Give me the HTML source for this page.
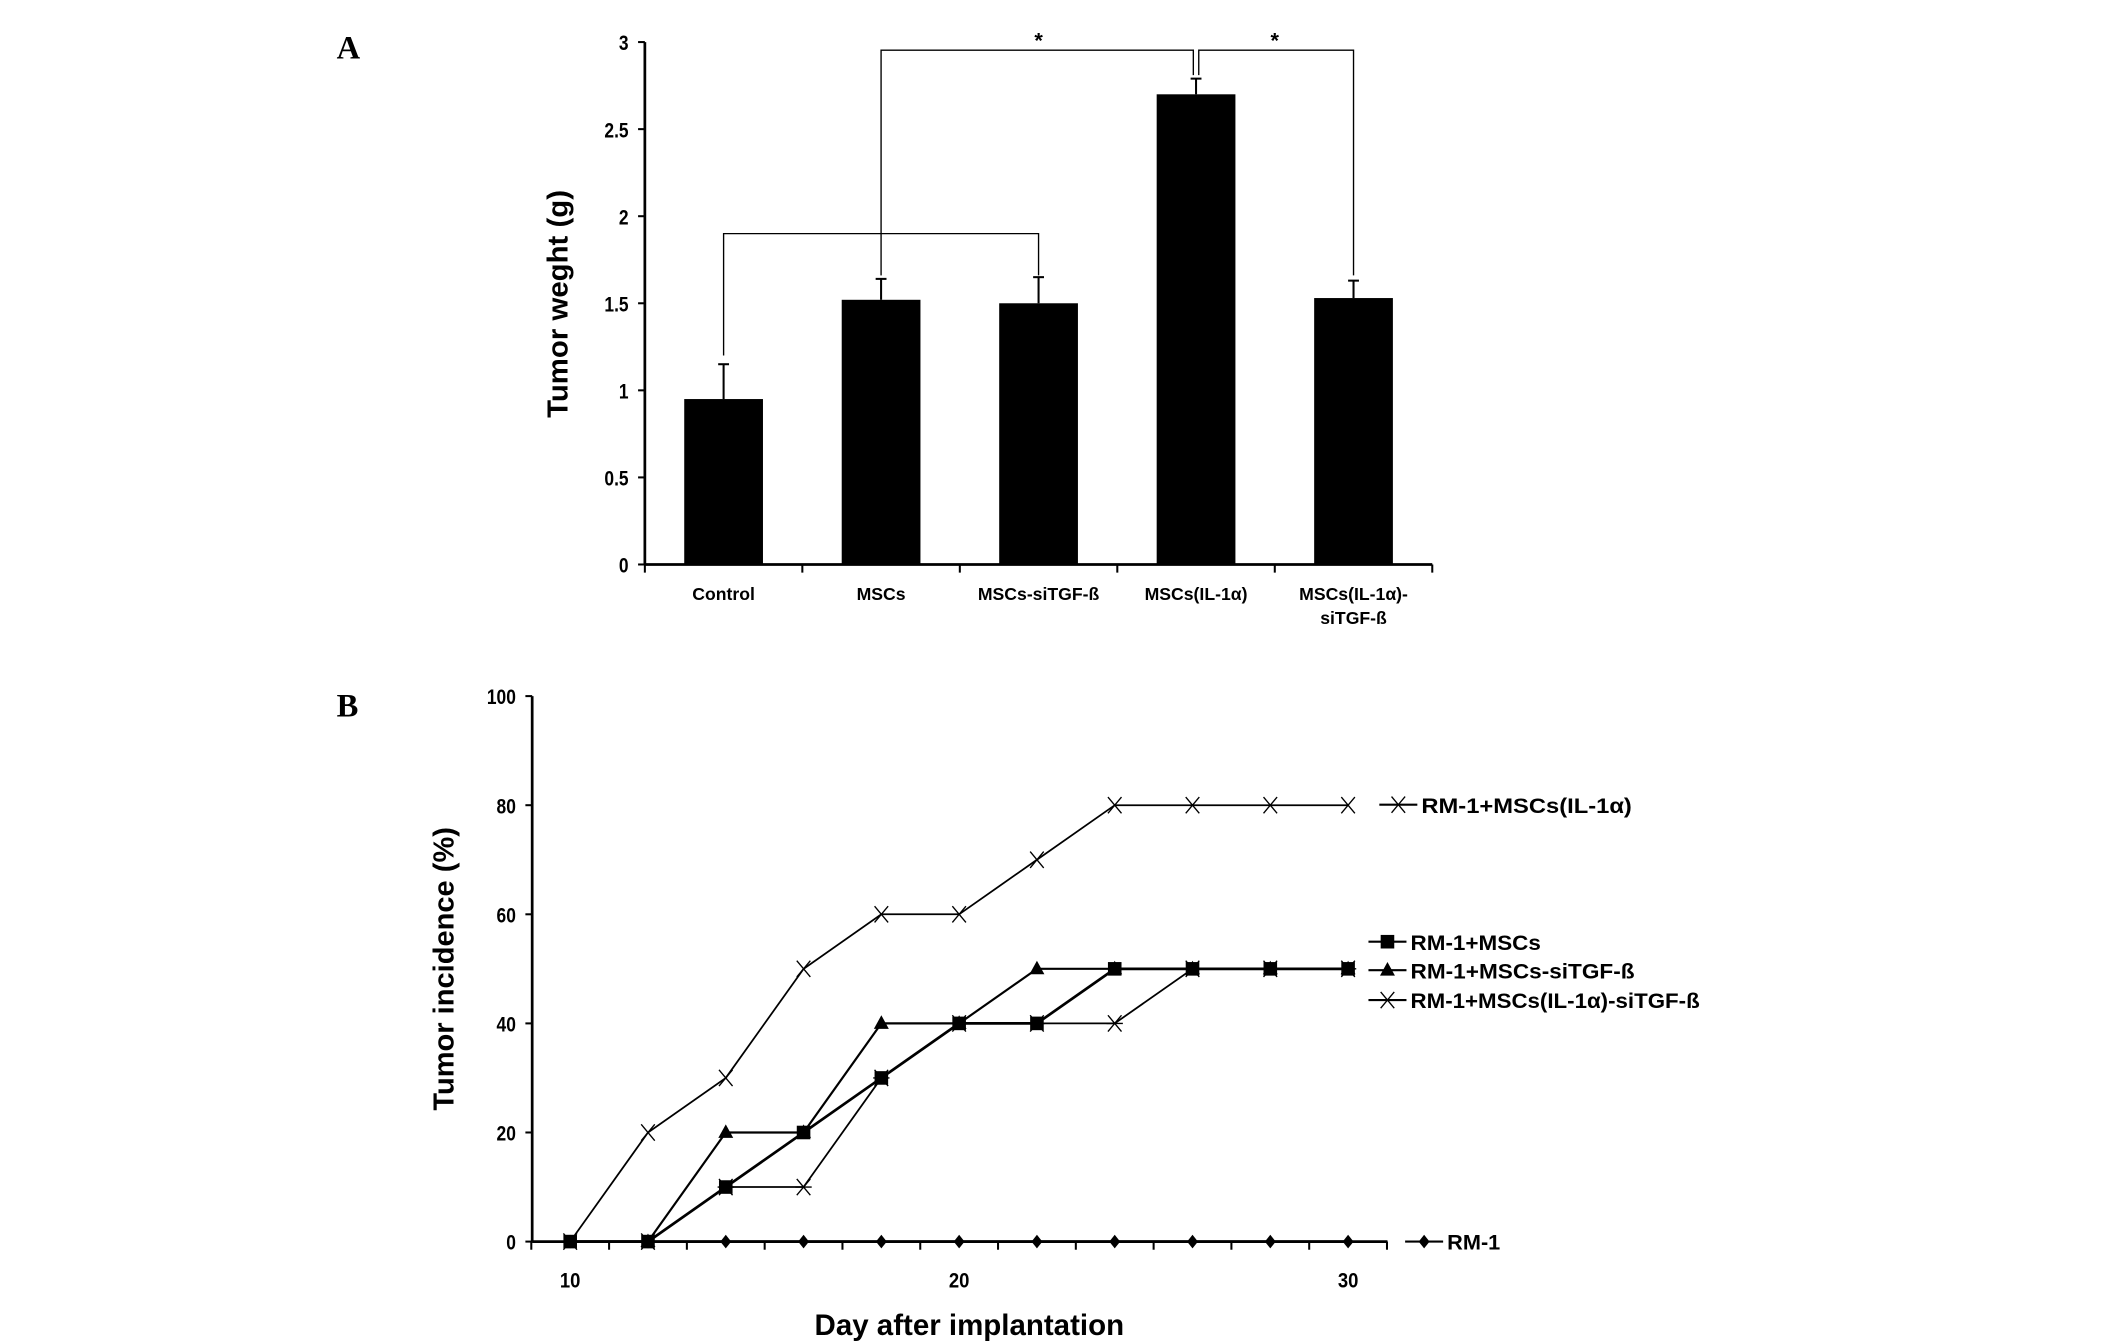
<!DOCTYPE html>
<html><head><meta charset="utf-8"><style>
html,body{margin:0;padding:0;background:#fff}
svg{display:block}
text{font-family:"Liberation Sans",Arial,sans-serif;font-weight:bold;fill:#000}
</style></head><body>
<svg id="fig" width="2126" height="1342" viewBox="0 0 1566 989" preserveAspectRatio="none" xmlns="http://www.w3.org/2000/svg">
<text x="248" y="43" font-size="24" style="font-family:'Liberation Serif',serif">A</text>
<text x="248" y="528" font-size="24" style="font-family:'Liberation Serif',serif">B</text>
<g id="chartA"></g>
<g id="chartB"></g>
</svg>
<script>
const catsA = ["Control","MSCs","MSCs-siTGF-ß","MSCs(IL-1α)","MSCs(IL-1α)-\nsiTGF-ß"];
const weights = [0.95,1.52,1.50,2.70,1.53];
const errTops = [1.15,1.64,1.65,2.79,1.63];
const ticksA = [0,0.5,1,1.5,2,2.5,3];
const tickLabelsA = ["0","0.5","1","1.5","2","2.5","3"];

const days = [10,12,14,16,18,20,22,24,26,28,30];
const seriesIL = [0,20,30,50,60,60,70,80,80,80,80];
const seriesMSC = [0,0,10,20,30,40,40,50,50,50,50];
const seriesSi = [null,0,20,20,40,40,50,50,50,50,50];
const seriesILSi = [null,0,10,10,30,40,40,40,50,50,50];
const seriesRM = [0,0,0,0,0,0,0,0,0,0,0];
const ticksBy = [0,20,40,60,80,100];
const ticksBx = [10,20,30];

const NS="http://www.w3.org/2000/svg";
function mk(parent,tag,attrs,text){const e=document.createElementNS(NS,tag);for(const k in attrs)e.setAttribute(k,attrs[k]);if(text!==undefined)e.textContent=text;parent.appendChild(e);return e;}

// Chart A
const A=document.getElementById('chartA');
const ax0=475, ax1=1055, ay0=416, ay3=31;
const yA=v=>ay0-(v/3)*(ay0-ay3);
const band=(ax1-ax0)/catsA.length;
const xA=i=>ax0+band*(i+0.5);
let e;
e=mk(A,'line',{x1:ax0,y1:ay3,x2:ax0,y2:ay0,stroke:'#000','stroke-width':2});

e=mk(A,'line',{x1:ax0,y1:ay0,x2:ax1,y2:ay0,stroke:'#000','stroke-width':2});

ticksA.forEach((t,i)=>{
  mk(A,'line',{x1:ax0-5,y1:yA(t),x2:ax0,y2:yA(t),stroke:'#000','stroke-width':1.5});
  e=mk(A,'text',{x:ax0-12,y:yA(t)+6,'font-size':16,'text-anchor':'end',transform:`translate(${ax0-12},0) scale(0.8,1) translate(${-(ax0-12)},0)`},tickLabelsA[i]);
  
});
for(let i=0;i<=catsA.length;i++) mk(A,'line',{x1:ax0+band*i,y1:ay0,x2:ax0+band*i,y2:ay0+6,stroke:'#000','stroke-width':1.5});
catsA.forEach((c,i)=>{
  const bx=xA(i);
  e=mk(A,'rect',{x:bx-29,y:yA(weights[i]),width:58,height:ay0-yA(weights[i]),fill:'#000'});
  
  e=mk(A,'line',{x1:bx,y1:yA(errTops[i]),x2:bx,y2:yA(weights[i]),stroke:'#000','stroke-width':1.5});
  
  mk(A,'line',{x1:bx-4,y1:yA(errTops[i]),x2:bx+4,y2:yA(errTops[i]),stroke:'#000','stroke-width':1.5});
  c.split('\n').forEach((ln,j)=>{
    e=mk(A,'text',{x:bx,y:442+j*18,'font-size':13,'text-anchor':'middle'},ln);
    
  });
});
const br=mk(A,'g',{stroke:'#000','stroke-width':1,fill:'none'});

const yLow=yA(1.9), yTop=37;
mk(br,'polyline',{points:`${xA(0)},${yA(1.2)} ${xA(0)},${yLow} ${xA(2)},${yLow} ${xA(2)},${yA(1.66)}`});
mk(br,'line',{x1:xA(1),y1:yLow,x2:xA(1),y2:yA(1.66)});
mk(br,'polyline',{points:`${xA(1)},${yLow} ${xA(1)},${yTop} ${xA(3)-2},${yTop} ${xA(3)-2},${yA(2.81)}`});
mk(br,'polyline',{points:`${xA(3)+2},${yA(2.81)} ${xA(3)+2},${yTop} ${xA(4)},${yTop} ${xA(4)},${yA(1.66)}`});
e=mk(A,'text',{x:(xA(1)+xA(3))/2,y:35,'font-size':16,'font-weight':'normal','text-anchor':'middle'},'*');

e=mk(A,'text',{x:(xA(3)+xA(4))/2,y:35,'font-size':16,'font-weight':'normal','text-anchor':'middle'},'*');

e=mk(A,'text',{x:0,y:0,'font-size':21,'text-anchor':'middle',textLength:168,lengthAdjust:'spacingAndGlyphs',transform:`translate(418,224) rotate(-90)`},'Tumor weght (g)');


// Chart B
const B=document.getElementById('chartB');
const bx0=392,bx1=1022,by0=915,by100=513;
const xB=d=>420+(d-10)*(993-420)/20;
const yB=v=>by0-v/100*(by0-by100);
e=mk(B,'line',{x1:bx0,y1:by100,x2:bx0,y2:by0,stroke:'#000','stroke-width':2});

e=mk(B,'line',{x1:bx0,y1:by0,x2:bx1,y2:by0,stroke:'#000','stroke-width':2});

ticksBy.forEach(t=>{
  mk(B,'line',{x1:bx0-5,y1:yB(t),x2:bx0,y2:yB(t),stroke:'#000','stroke-width':1.5});
  e=mk(B,'text',{x:bx0-12,y:yB(t)+6,'font-size':16,'text-anchor':'end',transform:`translate(${bx0-12},0) scale(0.8,1) translate(${-(bx0-12)},0)`},String(t));
  
});
for(let d=9;d<=31;d+=2) mk(B,'line',{x1:xB(d),y1:by0,x2:xB(d),y2:by0+6,stroke:'#000','stroke-width':1.5});
ticksBx.forEach(t=>{
  e=mk(B,'text',{x:xB(t),y:949,'font-size':16,'text-anchor':'middle',transform:`translate(${xB(t)},0) scale(0.85,1) translate(${-xB(t)},0)`},String(t));
  
});
e=mk(B,'text',{x:0,y:0,'font-size':21,'text-anchor':'middle',textLength:209,lengthAdjust:'spacingAndGlyphs',transform:`translate(334,714) rotate(-90)`},'Tumor incidence (%)');

e=mk(B,'text',{x:714,y:984,'font-size':22,'text-anchor':'middle',textLength:228,lengthAdjust:'spacingAndGlyphs'},'Day after implantation');


function marker(g,type,x,y){
  if(type==='x'){mk(g,'path',{d:`M${x-5},${y-6}L${x+5},${y+6}M${x-5},${y+6}L${x+5},${y-6}`,stroke:'#000','stroke-width':1,fill:'none'});}
  else if(type==='ast'){mk(g,'path',{d:`M${x-5},${y-6}L${x+5},${y+6}M${x-5},${y+6}L${x+5},${y-6}M${x-6},${y}L${x+6},${y}`,stroke:'#000','stroke-width':1,fill:'none'});}
  else if(type==='sq'){mk(g,'rect',{x:x-5,y:y-5,width:10,height:10,fill:'#000'});}
  else if(type==='tri'){mk(g,'path',{d:`M${x},${y-6}L${x+5.5},${y+4}L${x-5.5},${y+4}Z`,fill:'#000'});}
  else if(type==='dia'){mk(g,'path',{d:`M${x},${y-5}L${x+4},${y}L${x},${y+5}L${x-4},${y}Z`,fill:'#000'});}
}
function series(vals,type,name,sw){
  const g=mk(B,'g',{});
  
  const pts=[];vals.forEach((v,i)=>{if(v!==null)pts.push([xB(days[i]),yB(v)]);});
  mk(g,'polyline',{points:pts.map(p=>p.join(',')).join(' '),fill:'none',stroke:'#000','stroke-width':sw});
  pts.forEach(p=>marker(g,type,p[0],p[1]));
}
series(seriesRM,'dia','series-rm-1',2);
series(seriesILSi,'ast','series-msc-il1a-sitgf',1.3);
series(seriesSi,'tri','series-msc-sitgf',1.6);
series(seriesMSC,'sq','series-msc',2);
series(seriesIL,'x','series-msc-il1a',1.3);

function legend(y,x,type,label,name,len){
  const g=mk(B,'g',{});
  
  mk(g,'line',{x1:x,y1:y,x2:x+28,y2:y,stroke:'#000','stroke-width':1.6});
  marker(g,type,x+14,y);
  const attrs={x:x+31,y:y+6,'font-size':16};
  if(len){attrs.textLength=len;attrs.lengthAdjust='spacingAndGlyphs';}
  mk(g,'text',attrs,label);
}
legend(593,1016,'x','RM-1+MSCs(IL-1α)','legend-entry-il1a',155);
legend(694,1008,'sq','RM-1+MSCs','legend-entry-msc',96);
legend(715,1008,'tri','RM-1+MSCs-siTGF-ß','legend-entry-sitgf',165);
legend(737,1008,'ast','RM-1+MSCs(IL-1α)-siTGF-ß','legend-entry-il1a-sitgf',213);
legend(915,1035,'dia','RM-1','legend-entry-rm1',0);
</script>
</body></html>
